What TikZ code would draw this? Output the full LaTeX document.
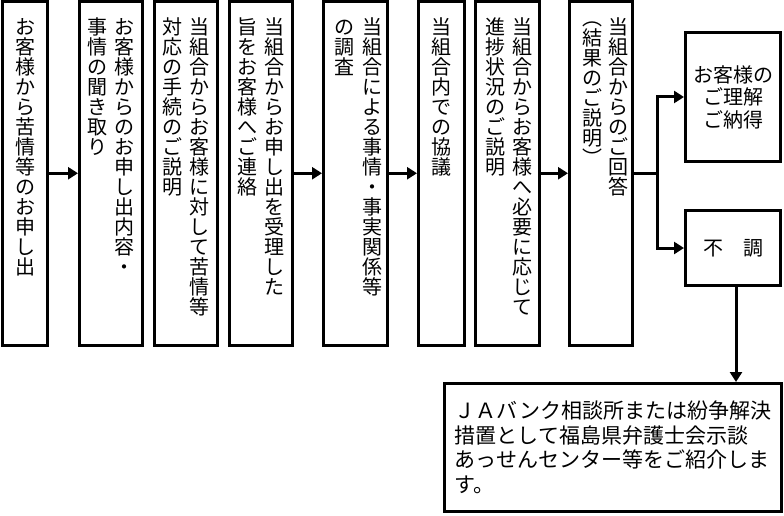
\documentclass[tikz,border=0pt]{standalone}
\usepackage{fontspec}
\setmainfont{Noto Sans CJK JP}
\usetikzlibrary{positioning,arrows.meta}

% vertical column of characters
\newcommand\tate[1]{\vtop{\baselineskip=20pt\lineskiplimit=-100pt\lineskip=0pt\tateloop#1\relax}}
\def\tateloop#1{\ifx\relax#1\else\hbox to 20pt{\hss#1\hss}\expandafter\tateloop\fi}

\begin{document}
\begin{tikzpicture}[x=1pt,y=-1pt,
  flowbox/.style={draw,line width=3pt,minimum height=343.5pt,inner sep=0pt},
  tatetext/.style={inner sep=0pt,font=\fontsize{20pt}{20pt}\selectfont},
  arr/.style={line width=3pt,-{Triangle[length=10pt,width=12pt]}}]
\useasboundingbox (0,0) rectangle (784,516);
\fill[white] (0,0) rectangle (784,516);

% steps
\node[flowbox,minimum width=45pt] (b1) at (25,173.25) {};
\node[flowbox,minimum width=63pt] (b2) at (111,173.25) {};
\node[flowbox,minimum width=63pt] (b3) at (186,173.25) {};
\node[flowbox,minimum width=63pt] (b4) at (261,173.25) {};
\node[flowbox,minimum width=64pt] (b5) at (355.5,173.25) {};
\node[flowbox,minimum width=46pt] (b6) at (441.5,173.25) {};
\node[flowbox,minimum width=64pt] (b7) at (507.5,173.25) {};
\node[flowbox,minimum width=63pt] (b8) at (601,173.25) {};

\node[tatetext,below=18pt of b1.north] (t1) {\tate{お客様から苦情等のお申し出}};
\node[tatetext,below=18pt of b2.north] (t2) {\tate{事情の聞き取り}\hskip7.5pt\tate{お客様からのお申し出内容・}};
\node[tatetext,below=18pt of b3.north] (t3) {\tate{対応の手続のご説明}\hskip7.5pt\tate{当組合からお客様に対して苦情等}};
\node[tatetext,below=18pt of b4.north] (t4) {\tate{旨をお客様へご連絡}\hskip7.5pt\tate{当組合からお申し出を受理した}};
\node[tatetext,below=18pt of b5.north,xshift=3pt] (t5) {\tate{の調査}\hskip7.5pt\tate{当組合による事情・事実関係等}};
\node[tatetext,below=18pt of b6.north] (t6) {\tate{当組合内での協議}};
\node[tatetext,below=18pt of b7.north,xshift=1.5pt] (t7) {\tate{進捗状況のご説明}\hskip7.5pt\tate{当組合からお客様へ必要に応じて}};
\node[tatetext,below=18pt of b8.north,xshift=4pt] (t8) {\raisebox{9pt}{\tate{︵結果のご説明︶}}\hskip6pt\tate{当組合からのご回答}};

% results
\node[draw,line width=3pt,minimum width=95pt,minimum height=129pt,align=center,
  font=\fontsize{20pt}{22.5pt}\selectfont] (agree) at (733,97) {お客様の\\ご理解\\ご納得};
\node[draw,line width=3pt,minimum width=95pt,minimum height=75pt,
  font=\fontsize{20pt}{20pt}\selectfont] (fail) at (733,248) {不　調};
\node[draw,line width=3pt,minimum width=337pt,minimum height=128pt,align=left,
  font=\fontsize{21pt}{24.5pt}\selectfont] (fin) at (613,447.5)
  {ＪＡバンク相談所または紛争解決\\措置として福島県弁護士会示談\\あっせんセンター等をご紹介しま\\す。};

% connectors
\draw[arr] (b1) -- (b2);
\draw[arr] (b4) -- (b5);
\draw[arr] (b5) -- (b6);
\draw[arr] (b7) -- (b8);
\coordinate (fork) at (657,173.25);
\draw[line width=3pt] (b8) -- (fork);
\draw[arr] (fork) |- (agree);
\draw[arr] (fork) |- (fail);
\draw[arr] ([xshift=3pt]fail.south) -- ([xshift=3pt]fail.south |- fin.north);
\end{tikzpicture}
\end{document}
